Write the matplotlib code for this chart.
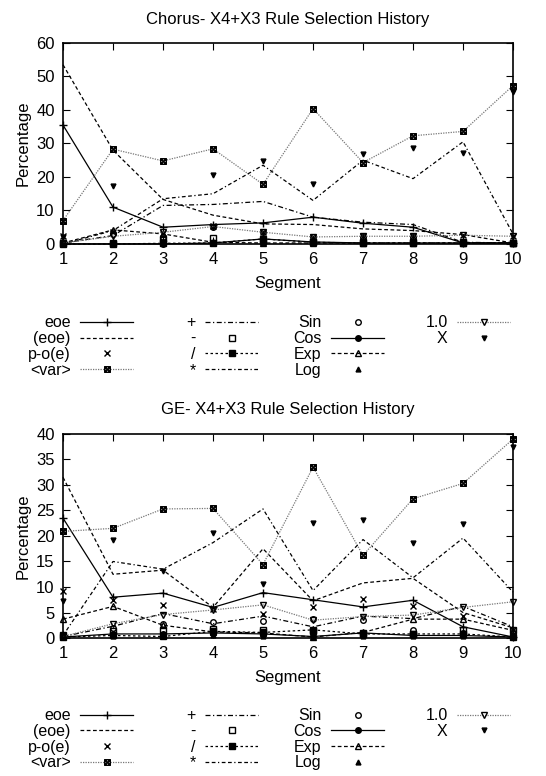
import matplotlib
matplotlib.use("Agg")
import matplotlib.pyplot as plt

plt.rcParams["font.family"] = ["Liberation Sans", "DejaVu Sans"]

segments = list(range(1, 11))
labels = ["eoe", "(eoe)", "p-o(e)", "<var>", "+", "-", "/", "*",
          "Sin", "Cos", "Exp", "Log", "1.0", "X"]

# Chorus run
chorus_eoe = [35.5, 11.0, 5.0, 5.8, 6.3, 8.0, 6.2, 5.0, 0.3, 0.3]
chorus_eoe_paren = [53.5, 28.0, 13.3, 8.6, 6.0, 5.8, 4.5, 4.0, 2.8, 0.3]
chorus_poe = [2.5, 3.5, 3.2, 5.5, 3.5, 2.0, 2.3, 2.5, 2.8, 2.3]
chorus_var = [7.0, 28.3, 24.8, 28.4, 17.8, 40.4, 24.3, 32.3, 33.6, 47.3]
chorus_plus = [0.3, 2.5, 11.5, 11.8, 12.7, 8.0, 6.5, 5.8, 0.5, 0.3]
chorus_minus = [0.3, 0.3, 1.5, 1.8, 0.8, 0.5, 0.5, 0.5, 0.5, 0.3]
chorus_div = [0.0, 0.0, 0.2, 0.3, 1.5, 0.5, 0.3, 0.3, 0.3, 0.3]
chorus_mul = [0.0, 4.0, 13.5, 15.0, 23.5, 13.0, 25.0, 19.5, 30.5, 3.0]
chorus_sin = [0.3, 3.0, 2.0, 5.0, 3.5, 2.0, 2.0, 2.0, 0.5, 0.3]
chorus_cos = [0.0, 0.0, 0.0, 0.3, 1.5, 0.6, 0.3, 0.3, 0.3, 0.3]
chorus_exp = [0.3, 4.2, 3.0, 0.5, 0.3, 0.3, 0.3, 0.3, 0.3, 0.3]
chorus_log = [0.2, 0.2, 0.2, 0.2, 0.2, 0.2, 0.2, 0.2, 0.2, 0.2]
chorus_one = [0.3, 2.3, 3.5, 5.2, 3.5, 2.1, 2.3, 2.3, 2.6, 2.3]
chorus_x = [2.0, 17.4, 0.5, 20.5, 24.8, 18.0, 27.0, 28.8, 27.2, 45.5]

# GE run
ge_eoe = [23.5, 8.0, 8.8, 6.0, 8.9, 7.5, 6.1, 7.4, 2.2, 0.2]
ge_eoe_paren = [31.5, 12.5, 13.3, 6.0, 17.5, 7.3, 10.8, 11.7, 5.0, 2.0]
ge_poe = [9.3, 7.5, 6.4, 5.7, 4.7, 6.1, 7.6, 6.2, 4.4, 1.5]
ge_var = [20.9, 21.5, 25.3, 25.4, 14.4, 33.5, 16.2, 27.3, 30.3, 39.0]
ge_plus = [0.3, 2.3, 4.8, 2.8, 4.3, 2.2, 4.3, 3.8, 6.2, 2.2]
ge_minus = [0.5, 1.3, 1.5, 1.8, 1.5, 1.3, 1.0, 0.8, 1.6, 1.6]
ge_div = [0.2, 0.5, 0.3, 1.3, 1.1, 1.6, 0.8, 0.8, 0.8, 0.2]
ge_mul = [0.5, 15.0, 13.5, 18.7, 25.3, 9.3, 19.3, 11.8, 19.6, 9.0]
ge_sin = [0.3, 2.0, 2.7, 3.2, 3.4, 3.8, 3.6, 1.6, 1.0, 0.3]
ge_cos = [0.2, 0.8, 0.8, 1.0, 0.8, 0.3, 1.0, 0.5, 0.5, 0.2]
ge_exp = [3.7, 6.2, 2.5, 1.2, 1.0, 0.2, 1.1, 3.7, 3.7, 1.5]
ge_log = [0.3, 0.3, 0.3, 0.5, 0.4, 0.2, 0.3, 0.3, 0.3, 0.2]
ge_one = [0.3, 2.8, 4.6, 5.5, 6.5, 3.5, 4.2, 4.5, 6.0, 7.1]
ge_x = [7.3, 19.3, 13.2, 20.6, 10.5, 22.6, 23.1, 18.7, 22.3, 37.5]

GRAY = "#777777"
styles = [
    dict(ls="-", marker="+", ms=6, color="black"),
    dict(ls=(0, (3, 2)), marker=None, color="black"),
    dict(ls="none", marker="x", ms=4, color="black"),
    dict(ls=(0, (1, 1)), marker=r"$\boxtimes$", ms=4.5, mew=0.5, color=GRAY, mec="black", mfc="black"),
    dict(ls=(0, (4, 2, 1, 2)), marker=None, color="black"),
    dict(ls="none", marker="s", ms=4, mfc="none", color="black"),
    dict(ls=(0, (2, 2)), marker="s", ms=5, color="black"),
    dict(ls=(0, (3, 2, 3, 2, 1, 2)), marker=None, color="black"),
    dict(ls="none", marker="o", ms=4, mfc="none", color="black"),
    dict(ls="-", marker="o", ms=4, color="black"),
    dict(ls=(0, (3, 2)), marker="^", ms=4, mfc="none", color="black"),
    dict(ls="none", marker="^", ms=3.5, color="black"),
    dict(ls=(0, (1, 1)), marker="v", ms=5, mfc="none", color=GRAY, mec="black"),
    dict(ls="none", marker="v", ms=3.5, color="black"),
]

panels = [
    ("Chorus- X4+X3 Rule Selection History", 60, 10,
     [chorus_eoe, chorus_eoe_paren, chorus_poe, chorus_var, chorus_plus,
      chorus_minus, chorus_div, chorus_mul, chorus_sin, chorus_cos,
      chorus_exp, chorus_log, chorus_one, chorus_x]),
    ("GE- X4+X3 Rule Selection History", 40, 5,
     [ge_eoe, ge_eoe_paren, ge_poe, ge_var, ge_plus, ge_minus, ge_div,
      ge_mul, ge_sin, ge_cos, ge_exp, ge_log, ge_one, ge_x]),
]

fig = plt.figure(figsize=(5.46, 7.76), dpi=100)
axes_rects = [[0.1154, 0.6856, 0.8242, 0.2590],
              [0.1154, 0.1778, 0.8242, 0.2630]]
legend_tops = [0.5935, 0.0875]

# legend split into four columns below each panel
col_right = [133, 258, 384, 510]
groups = [range(0, 4), range(4, 8), range(8, 12), range(12, 14)]

for (title, ymax, ystep, series), rect, ltop in zip(panels, axes_rects, legend_tops):
    ax = fig.add_axes(rect)
    handles = []
    for values, st in zip(series, styles):
        h, = ax.plot(segments, values, lw=0.9, clip_on=False, **st)
        handles.append(h)
    ax.set_xlim(1, 10)
    ax.set_ylim(0, ymax)
    ax.set_xticks(segments)
    ax.set_yticks(range(0, ymax + 1, ystep))
    ax.tick_params(direction="in", top=True, right=True, length=5,
                   width=0.8, labelsize=12, pad=6)
    for sp in ax.spines.values():
        sp.set_linewidth(1.2)
    ax.set_title(title, fontsize=12, pad=14)
    ax.set_xlabel("Segment", fontsize=12, labelpad=6)
    ax.set_ylabel("Percentage", fontsize=12, labelpad=4)

    for xr, idx in zip(col_right, groups):
        fig.legend([handles[i] for i in idx], [labels[i] for i in idx],
                   loc="upper right", bbox_to_anchor=(xr / 546, ltop),
                   markerfirst=False, frameon=False, fontsize=11.5,
                   handlelength=3.3, handletextpad=0.6, labelspacing=0.05,
                   borderpad=0, borderaxespad=0)

fig.savefig("out.png", dpi=100)
